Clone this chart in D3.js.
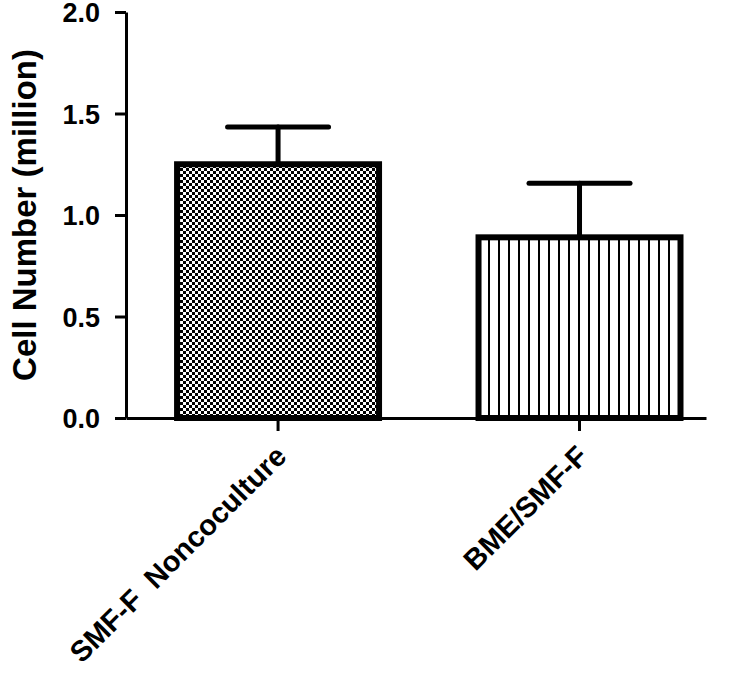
<!DOCTYPE html>
<html>
<head>
<meta charset="utf-8">
<script src="https://cdn.jsdelivr.net/npm/d3@7"></script>
<style>
  body { margin: 0; background: #fff; }
  text { font-family: "Liberation Sans", Arial, sans-serif; font-weight: bold; fill: #000; }
</style>
</head>
<body>
<svg id="chart"></svg>
<script>
// data
var categories = ['SMF-F\u00a0\u00a0Noncoculture', 'BME/SMF-F'];
var means = [1.25, 0.89];
var errors = [0.183, 0.267];
var yTicks = [0, 0.5, 1.0, 1.5, 2.0];
var fills = ['url(#checker)', 'url(#stripes)'];

// layout
var margin = {top: 12, right: 28, bottom: 257, left: 126};
var width = 580;
var height = 406;

var svg = d3.select('#chart')
  .attr('width', 734)
  .attr('height', 675);

// fill patterns
var defs = svg.append('defs');
var checker = defs.append('pattern')
  .attr('id', 'checker')
  .attr('patternUnits', 'userSpaceOnUse')
  .attr('width', 6)
  .attr('height', 6);
checker.append('rect').attr('width', 6).attr('height', 6).attr('fill', '#fff');
checker.append('rect').attr('width', 3).attr('height', 3).attr('fill', '#000');
checker.append('rect').attr('x', 3).attr('y', 3).attr('width', 3).attr('height', 3).attr('fill', '#000');

var stripes = defs.append('pattern')
  .attr('id', 'stripes')
  .attr('patternUnits', 'userSpaceOnUse')
  .attr('width', 10)
  .attr('height', 10);
stripes.append('rect').attr('width', 10).attr('height', 10).attr('fill', '#fff');
stripes.append('rect').attr('x', 2).attr('width', 2).attr('height', 10).attr('fill', '#000');

var g = svg.append('g')
  .attr('transform', 'translate(' + margin.left + ',' + margin.top + ')');

// scales
var x = d3.scaleBand()
  .domain(categories)
  .range([0, width])
  .paddingInner(0.33)
  .paddingOuter(0.127)
  .align(0.667);
var y = d3.scaleLinear().domain([0, 2]).range([height, 0]);

var rows = categories.map(function(c, i) {
  return {name: c, mean: means[i], err: errors[i], fill: fills[i]};
});

// error bars (upper only)
var eb = g.selectAll('g.err')
  .data(rows)
  .enter()
  .append('g')
    .attr('class', 'err')
    .attr('stroke', '#000')
    .attr('stroke-width', 5)
    .attr('stroke-linecap', 'round');
eb.append('line')
  .attr('x1', function(d) { return x(d.name) + x.bandwidth() / 2; })
  .attr('x2', function(d) { return x(d.name) + x.bandwidth() / 2; })
  .attr('y1', function(d) { return y(d.mean); })
  .attr('y2', function(d) { return y(d.mean + d.err); });
eb.append('line')
  .attr('x1', function(d) { return x(d.name) + x.bandwidth() / 2 - x.bandwidth() / 4; })
  .attr('x2', function(d) { return x(d.name) + x.bandwidth() / 2 + x.bandwidth() / 4; })
  .attr('y1', function(d) { return y(d.mean + d.err); })
  .attr('y2', function(d) { return y(d.mean + d.err); });

// bars
g.selectAll('rect.bar')
  .data(rows)
  .enter()
  .append('rect')
    .attr('class', 'bar')
    .attr('x', function(d) { return x(d.name); })
    .attr('y', function(d) { return y(d.mean); })
    .attr('width', x.bandwidth())
    .attr('height', function(d) { return y(0) - y(d.mean); })
    .attr('fill', function(d) { return d.fill; })
    .attr('stroke', '#000')
    .attr('stroke-width', 6);

// y axis
var yAxis = g.append('g')
  .call(d3.axisLeft(y)
    .tickValues(yTicks)
    .tickFormat(d3.format('.1f'))
    .tickSize(11)
    .tickSizeOuter(0)
    .tickPadding(15));
yAxis.selectAll('path, line').attr('stroke', '#000').attr('stroke-width', 3);
yAxis.selectAll('text')
  .style('font-size', '27px')
  .attr('dy', '0.36em');

// x axis
var xAxis = g.append('g')
  .attr('transform', 'translate(0,' + height + ')')
  .call(d3.axisBottom(x).tickSize(13).tickSizeOuter(0));
xAxis.selectAll('path, line').attr('stroke', '#000').attr('stroke-width', 3);
xAxis.selectAll('text')
  .style('font-size', '29px')
  .attr('text-anchor', 'end')
  .attr('y', 0)
  .attr('x', 0)
  .attr('dy', 0)
  .attr('transform', 'translate(10,40) rotate(-45)');

// y axis label
svg.append('text')
  .attr('transform', 'translate(36,' + (margin.top + height / 2) + ') rotate(-90)')
  .attr('text-anchor', 'middle')
  .style('font-size', '33px')
  .text('Cell Number (million)');
</script>
</body>
</html>
